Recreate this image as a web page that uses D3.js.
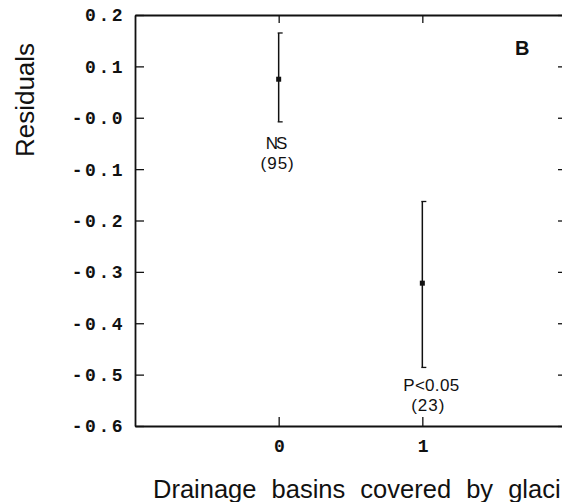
<!DOCTYPE html>
<html lang="en">
<head>
    <meta charset="UTF-8">
    <title>Residuals B</title>
    <script src="https://d3js.org/d3.v7.min.js"></script>
    <style>
        body { margin: 0; background: #fff; overflow: hidden; }
        svg { display: block; }
        .tick-label { font-family: "Liberation Mono", "DejaVu Sans Mono", monospace; font-weight: bold; font-size: 18px; letter-spacing: 2.5px; fill: #111; }
        .note { font-family: "Liberation Sans", Arial, sans-serif; font-size: 17px; fill: #111; }
    </style>
</head>
<body>
<div id="chart"></div>
<script>
    // groups on the x axis (number of basins covered by glaciers)
    const groups = [0, 1];
    const means = [0.075, -0.322];
    const upper = [0.165, -0.163];
    const lower = [-0.008, -0.486];
    const sigLabels = ["NS", "P<0.05"];
    const nLabels = ["(95)", "(23)"];

    const yTicks = [0.2, 0.1, 0.0, -0.1, -0.2, -0.3, -0.4, -0.5, -0.6];
    const yTickLabels = ["0.2", "0.1", "-0.0", "-0.1", "-0.2", "-0.3", "-0.4", "-0.5", "-0.6"];
    const xTicks = [0, 1];

    const W = 562, H = 502;

    const svg = d3.select("#chart").append("svg")
        .attr("width", W)
        .attr("height", H);

    const x = d3.scaleLinear().domain([-1, 2]).range([135, 566]);
    const y = d3.scaleLinear().domain([-0.6, 0.2]).range([426, 15]);

    const stroke = "#111";

    // frame axes, ticks pointing inward
    const gLeft = svg.append("g")
        .attr("transform", `translate(${x(-1)},0)`)
        .call(d3.axisLeft(y).tickValues(yTicks).tickSizeInner(-9).tickSizeOuter(0).tickFormat(""));
    const gRight = svg.append("g")
        .attr("transform", `translate(${x(2)},0)`)
        .call(d3.axisRight(y).tickValues(yTicks).tickSizeInner(-8).tickSizeOuter(0).tickFormat(""));
    const gTop = svg.append("g")
        .attr("transform", `translate(0,${y(0.2)})`)
        .call(d3.axisTop(x).tickValues(xTicks).tickSizeInner(-8).tickSizeOuter(0).tickFormat(""));
    const gBottom = svg.append("g")
        .attr("transform", `translate(0,${y(-0.6)})`)
        .call(d3.axisBottom(x).tickValues(xTicks).tickSizeInner(-9).tickSizeOuter(0).tickFormat(""));

    [gLeft, gRight, gTop, gBottom].forEach(g => {
        g.select(".domain").attr("stroke", stroke).attr("stroke-width", 1.8);
        g.selectAll(".tick line").attr("stroke", stroke).attr("stroke-width", 1.3);
    });
    // right frame edge lies outside the cropped view; only its ticks show
    gRight.select(".domain").attr("stroke", "none");

    // y tick labels
    svg.selectAll(".ylab")
        .data(yTicks)
        .enter()
        .append("text")
        .attr("class", "tick-label")
        .attr("x", x(-1) - 10)
        .attr("y", d => y(d))
        .attr("dy", "0.36em")
        .attr("text-anchor", "end")
        .text((d, i) => yTickLabels[i]);

    // x tick labels
    svg.selectAll(".xlab")
        .data(xTicks)
        .enter()
        .append("text")
        .attr("class", "tick-label")
        .attr("x", d => x(d) + 2)
        .attr("y", y(-0.6) + 26)
        .attr("text-anchor", "middle")
        .text(d => d);

    // error bars
    const bars = svg.selectAll(".bar")
        .data(groups)
        .enter()
        .append("g");

    bars.append("line")
        .attr("x1", d => x(d))
        .attr("x2", d => x(d))
        .attr("y1", (d, i) => y(upper[i]))
        .attr("y2", (d, i) => y(lower[i]))
        .attr("stroke", stroke)
        .attr("stroke-width", 1.5);

    bars.append("line")
        .attr("x1", d => x(d) - 1)
        .attr("x2", d => x(d) + 4)
        .attr("y1", (d, i) => y(upper[i]))
        .attr("y2", (d, i) => y(upper[i]))
        .attr("stroke", stroke)
        .attr("stroke-width", 1.3);

    bars.append("line")
        .attr("x1", d => x(d) - 1)
        .attr("x2", d => x(d) + 4)
        .attr("y1", (d, i) => y(lower[i]))
        .attr("y2", (d, i) => y(lower[i]))
        .attr("stroke", stroke)
        .attr("stroke-width", 1.3);

    bars.append("rect")
        .attr("x", d => x(d) - 2.5)
        .attr("y", (d, i) => y(means[i]) - 2.5)
        .attr("width", 5)
        .attr("height", 5)
        .attr("fill", stroke);

    // annotations under each bar
    bars.append("text")
        .attr("class", "note")
        .attr("x", d => x(d) + (d === 0 ? -3 : 9))
        .attr("y", (d, i) => y(lower[i]) + (d === 0 ? 27 : 24))
        .attr("text-anchor", "middle")
        .attr("letter-spacing", (d) => d === 0 ? "-2px" : "0.3px")
        .text((d, i) => sigLabels[i]);

    bars.append("text")
        .attr("class", "note")
        .attr("x", d => x(d) + (d === 0 ? -1 : 6))
        .attr("y", (d, i) => y(lower[i]) + (d === 0 ? 47 : 44))
        .attr("text-anchor", "middle")
        .attr("letter-spacing", "1px")
        .text((d, i) => nLabels[i]);

    // panel letter
    svg.append("text")
        .attr("x", 515)
        .attr("y", 55)
        .style("font-family", "Liberation Sans, Arial, sans-serif")
        .style("font-weight", "bold")
        .style("font-size", "20px")
        .attr("fill", stroke)
        .text("B");

    // axis titles
    svg.append("text")
        .attr("transform", "translate(34,100) rotate(-90)")
        .attr("text-anchor", "middle")
        .style("font-family", "Liberation Sans, Arial, sans-serif")
        .style("font-size", "26px")
        .attr("fill", stroke)
        .text("Residuals");

    // x title as it shows in the cropped figure
    svg.append("text")
        .attr("x", 153)
        .attr("y", 498)
        .style("font-family", "Liberation Sans, Arial, sans-serif")
        .style("font-size", "25.5px")
        .style("word-spacing", "8px")
        .attr("fill", stroke)
        .text("Drainage basins covered by glaci");
</script>
</body>
</html>
